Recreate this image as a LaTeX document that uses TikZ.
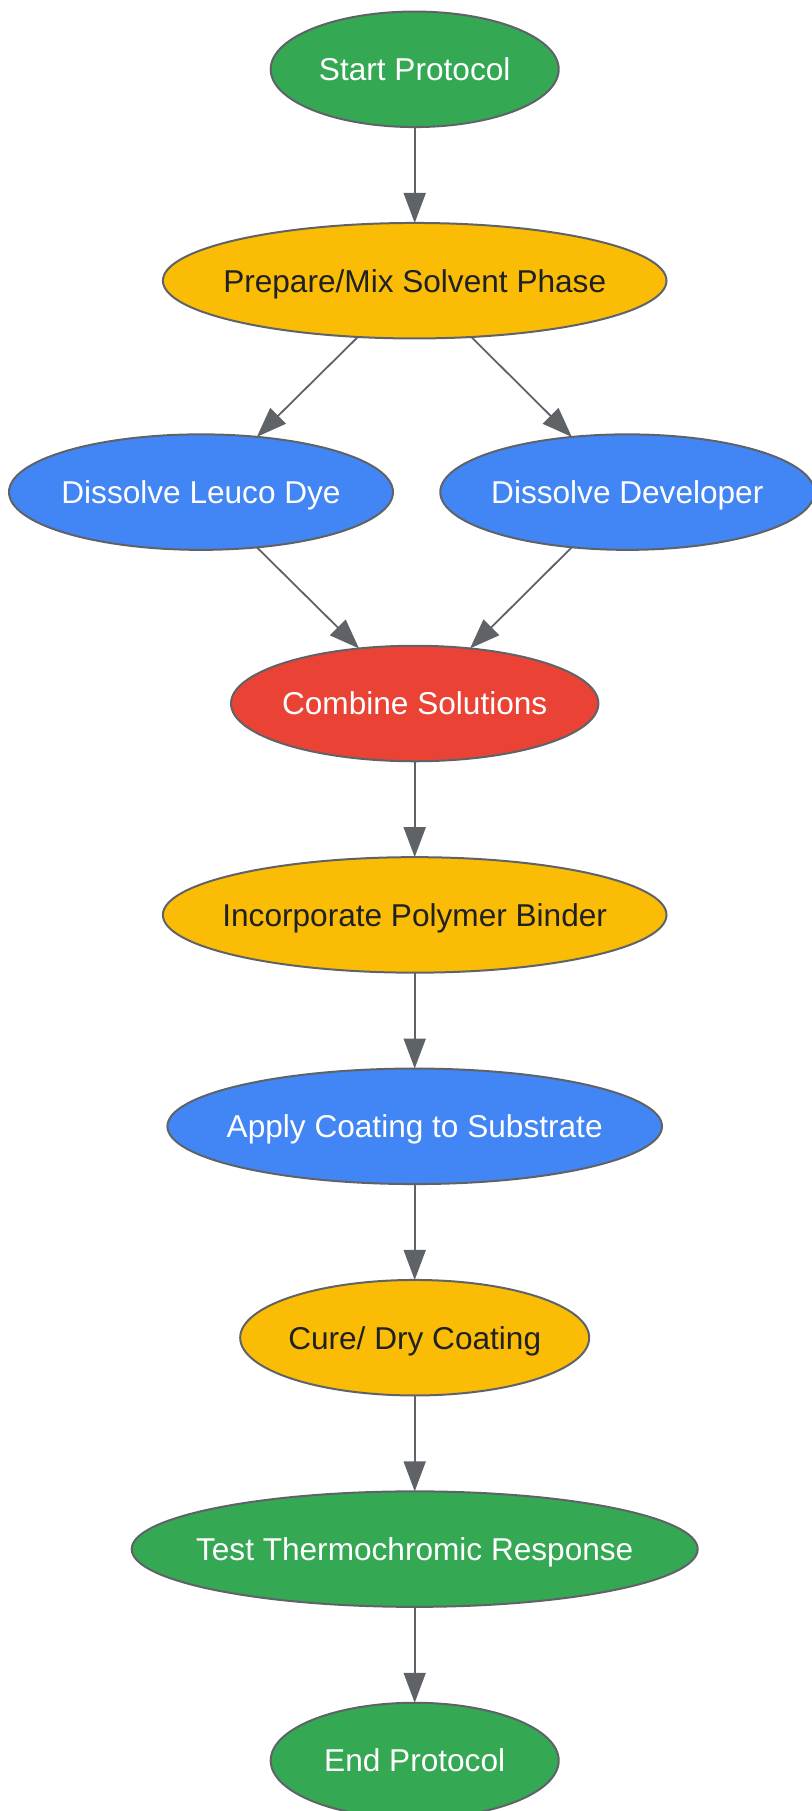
\documentclass[tikz,border=0pt]{standalone}
\usepackage{fontspec}
\setmainfont{Liberation Sans}
\usetikzlibrary{shapes.geometric,arrows.meta}

\definecolor{startgreen}{HTML}{34A853}
\definecolor{stepyellow}{HTML}{FBBC05}
\definecolor{stepblue}{HTML}{4285F4}
\definecolor{stepred}{HTML}{EA4335}
\definecolor{rimgray}{HTML}{5F6368}
\definecolor{inkdark}{HTML}{202124}

\begin{document}
\begin{tikzpicture}[x=0.5pt,y=-0.5pt,
  stage/.style={ellipse,draw=rimgray,line width=1pt,inner sep=0pt,outer sep=0pt,
    minimum height=57.75pt,font=\fontsize{15.8}{19}\selectfont,
    text height=11.4pt,text depth=0pt,
    execute at begin node={\hbox to 0pt\bgroup\hss},
    execute at end node={\hss\egroup}},
  greenstage/.style={stage,fill=startgreen,text=white},
  yellowstage/.style={stage,fill=stepyellow,text=inkdark},
  bluestage/.style={stage,fill=stepblue,text=white},
  redstage/.style={stage,fill=stepred,text=white},
  flow/.style={draw=rimgray,line width=0.9pt,-{Triangle[length=15pt,width=11pt]}}]

  \useasboundingbox (0,0) rectangle (811,1811);

    \node[greenstage,minimum width=144pt] at (414.7,69.3)   (start) {Start Protocol};
    \node[yellowstage,minimum width=251.8pt] at (414.7,280.7) (solvent) {Prepare/Mix Solvent Phase};
    \node[bluestage,minimum width=192pt] at (201,492.1)   (leuco) {Dissolve Leuco Dye};
    \node[bluestage,minimum width=187pt] at (627.3,492.1) (developer) {Dissolve Developer};
    \node[redstage,minimum width=183.7pt] at (414.7,703.5) (combine) {Combine Solutions};
    \node[yellowstage,minimum width=251.8pt] at (414.7,914.9) (binder) {Incorporate Polymer Binder};
    \node[bluestage,minimum width=247.3pt] at (414.7,1126.3) (coating) {Apply Coating to Substrate};
    \node[yellowstage,minimum width=174.5pt] at (414.7,1337.7) (cure) {Cure/ Dry Coating};
    \node[greenstage,minimum width=283pt] at (414.7,1549.1) (test) {Test Thermochromic Response};
    \node[greenstage,minimum width=144pt] at (414.7,1760.5) (finish) {End Protocol};

  % arrows between the steps
  \draw[flow] (start) -- (solvent);
  \draw[flow] (solvent) -- (leuco);
  \draw[flow] (solvent) -- (developer);
  \draw[flow] (leuco) -- (combine);
  \draw[flow] (developer) -- (combine);
  \draw[flow] (combine) -- (binder);
  \draw[flow] (binder) -- (coating);
  \draw[flow] (coating) -- (cure);
  \draw[flow] (cure) -- (test);
  \draw[flow] (test) -- (finish);
    \end{tikzpicture}
\end{document}
